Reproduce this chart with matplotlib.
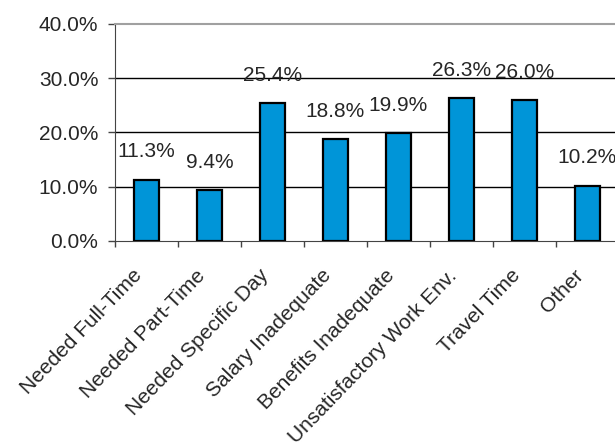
import matplotlib
matplotlib.use("Agg")
from matplotlib import pyplot as plt
from matplotlib import transforms
import numpy as np

plt.rcParams['font.family'] = ['Liberation Sans', 'DejaVu Sans']

categories = ['Needed Full-Time', 'Needed Part-Time', 'Needed Specific Day',
              'Salary Inadequate', 'Benefits Inadequate', 'Unsatisfactory Work Env.',
              'Travel Time', 'Other']
values = [11.3, 9.4, 25.4, 18.8, 19.9, 26.3, 26.0, 10.2]
y_ticks = [0, 10, 20, 30, 40]

text_color = '#262626'
bar_color = '#0095d8'
fsize = 15

fig = plt.figure(figsize=(6.15, 4.46), dpi=100)
ax = fig.add_axes([115 / 615., 1 - 241 / 446., 504 / 615., 217 / 446.])

x = np.arange(len(categories))
ax.bar(x, values, width=0.41, color=bar_color, edgecolor='black', linewidth=1.6, zorder=3)

for xi, v in zip(x, values):
    ax.annotate('%.1f%%' % v, (xi, v), xytext=(0, 20), textcoords='offset points',
                ha='center', va='center', fontsize=fsize, color=text_color, zorder=4)

ax.set_xlim(-0.5, len(categories) - 0.5)
ax.set_ylim(0, 40)
ax.set_yticks(y_ticks)
ax.set_yticklabels(['%.1f%%' % t for t in y_ticks], fontsize=fsize, color=text_color)

# gridlines at 10/20/30
for t in y_ticks[1:-1]:
    ax.axhline(t, color='black', linewidth=1.0, zorder=1)

# ticks on category boundaries, labels at centers
ax.set_xticks(np.arange(len(categories) + 1) - 0.5)
ax.set_xticklabels([])
ax.set_xticks(x, minor=True)
ax.set_xticklabels(categories, minor=True, rotation=46, ha='right', va='top',
                   rotation_mode='anchor', fontsize=fsize, color=text_color)
ax.tick_params(axis='x', which='major', direction='out', length=4.5, width=1, color='#444444')
ax.tick_params(axis='x', which='minor', length=0, pad=18)
ax.tick_params(axis='y', direction='out', length=5, width=1, color='#444444', pad=7)
offset = transforms.ScaledTranslation(-14 / 100., 0, fig.dpi_scale_trans)
for lab in ax.xaxis.get_minorticklabels():
    lab.set_transform(lab.get_transform() + offset)

ax.spines['right'].set_visible(False)
ax.spines['top'].set_color('#a0a0a0')
ax.spines['top'].set_linewidth(1.5)
ax.spines['left'].set_color('#444444')
ax.spines['bottom'].set_color('#444444')

fig.savefig('out.png', dpi=100)
